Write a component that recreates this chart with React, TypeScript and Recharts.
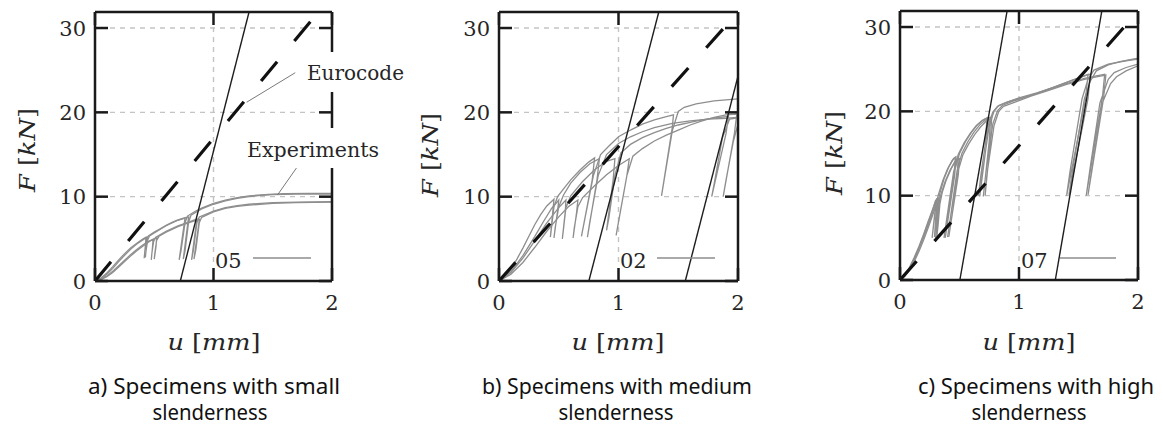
import React from 'react';
import { LineChart, Line, XAxis, YAxis, CartesianGrid, ReferenceLine } from 'recharts';

type Pt = [number, number];

// ---------- axes ----------
const uTicks = [0, 1, 2];
const fTicks = [0, 10, 20, 30];
const uDomain: [number, number] = [0, 2];
const fDomain: [number, number] = [0, 31.9];

// ---------- a) small slenderness (specimen 05) ----------
const smallExp1: Pt[] = [
  [0, 0], [0.05, 0.35], [0.1, 0.95], [0.15, 1.7], [0.2, 2.5], [0.25, 3.25], [0.3, 3.9], [0.35, 4.45], [0.4, 4.95], [0.43, 5.2],
  [0.425, 4.2], [0.415, 2.7], [0.42, 3.4], [0.435, 4.8], [0.45, 5.35],
  [0.5, 5.8], [0.55, 6.2], [0.6, 6.6], [0.65, 6.95], [0.7, 7.25], [0.76, 7.5],
  [0.75, 6.5], [0.71, 2.5], [0.725, 3.5], [0.76, 6.9], [0.78, 7.7],
  [0.85, 8.3], [0.9, 8.65], [1.0, 9.2], [1.1, 9.6], [1.2, 9.9], [1.3, 10.1], [1.4, 10.2], [1.5, 10.3], [1.6, 10.35], [1.8, 10.38], [2.0, 10.38],
];
const smallExp2: Pt[] = [
  [0, 0], [0.05, 0.25], [0.1, 0.8], [0.15, 1.5], [0.2, 2.3], [0.25, 3.05], [0.3, 3.75], [0.35, 4.35], [0.4, 4.85], [0.44, 5.2],
  [0.435, 4.2], [0.425, 2.8], [0.43, 3.5], [0.445, 4.9], [0.46, 5.35],
  [0.5, 5.7], [0.6, 6.55], [0.7, 7.2], [0.79, 7.6],
  [0.78, 6.5], [0.745, 2.6], [0.76, 3.6], [0.79, 7.0], [0.81, 7.8],
  [0.9, 8.55], [1.0, 9.1], [1.1, 9.5], [1.2, 9.8], [1.3, 10.0], [1.4, 10.15], [1.5, 10.25], [1.7, 10.3], [2.0, 10.3],
];
const smallExp3: Pt[] = [
  [0, 0], [0.05, 0.15], [0.1, 0.5], [0.15, 1.0], [0.2, 1.65], [0.25, 2.3], [0.3, 2.95], [0.35, 3.55], [0.4, 4.1], [0.45, 4.6], [0.49, 4.95],
  [0.485, 4.0], [0.475, 2.5], [0.48, 3.3], [0.495, 4.7], [0.51, 5.15],
  [0.6, 5.9], [0.7, 6.55], [0.8, 7.05], [0.86, 7.35],
  [0.85, 6.3], [0.815, 2.5], [0.83, 3.6], [0.86, 6.9], [0.88, 7.6],
  [0.95, 8.0], [1.0, 8.3], [1.1, 8.7], [1.2, 8.95], [1.3, 9.1], [1.4, 9.2], [1.5, 9.3], [1.7, 9.35], [2.0, 9.4],
];
const smallExp4: Pt[] = [
  [0, 0], [0.05, 0.2], [0.1, 0.6], [0.15, 1.15], [0.2, 1.8], [0.25, 2.45], [0.3, 3.1], [0.35, 3.7], [0.4, 4.25], [0.45, 4.7], [0.52, 5.1],
  [0.515, 4.1], [0.5, 2.6], [0.505, 3.3], [0.52, 4.8], [0.54, 5.3],
  [0.6, 5.8], [0.7, 6.45], [0.8, 6.95], [0.88, 7.3],
  [0.87, 6.2], [0.835, 2.6], [0.85, 3.6], [0.88, 6.9], [0.9, 7.55],
  [1.0, 8.2], [1.1, 8.6], [1.2, 8.85], [1.3, 9.0], [1.5, 9.2], [1.7, 9.3], [2.0, 9.35],
];
const smallEurocode: Pt[] = [[0, 0], [1.85, 31.3]];
const smallStiffness1: Pt[] = [[0.72, 0], [1.3, 31.9]];

// ---------- b) medium slenderness (specimen 02) ----------
const mediumExp1: Pt[] = [
  [0, 0], [0.05, 0.5], [0.1, 1.4], [0.15, 2.6], [0.2, 3.9], [0.25, 5.3], [0.3, 6.7], [0.35, 7.9], [0.4, 8.9], [0.46, 9.7],
  [0.45, 8.2], [0.43, 5.2], [0.44, 6.4], [0.46, 8.8], [0.49, 10.0],
  [0.55, 11.1], [0.6, 12.0], [0.68, 13.2], [0.75, 14.1], [0.8, 14.6],
  [0.78, 12.0], [0.69, 5.3], [0.72, 7.5], [0.79, 12.5], [0.85, 15.0],
  [0.92, 16.0], [1.0, 17.1], [1.1, 17.9], [1.2, 18.6], [1.3, 19.1], [1.4, 19.5], [1.46, 19.7],
  [1.45, 18.2], [1.36, 10.1], [1.38, 11.8], [1.45, 17.8], [1.5, 20.1], [1.55, 20.6],
  [1.65, 21.0], [1.8, 21.35], [2.0, 21.6],
];
const mediumExp2: Pt[] = [
  [0, 0], [0.1, 0.8], [0.2, 2.2], [0.3, 4.0], [0.4, 5.9], [0.5, 7.6], [0.58, 8.8], [0.66, 9.6],
  [0.65, 8.2], [0.62, 5.1], [0.63, 6.3], [0.66, 8.8], [0.7, 9.9],
  [0.8, 11.3], [0.9, 12.6], [1.0, 13.7], [1.09, 14.5],
  [1.07, 12.5], [0.98, 5.4], [1.0, 7.0], [1.07, 12.5], [1.12, 14.8],
  [1.2, 15.7], [1.3, 16.6], [1.4, 17.3], [1.5, 17.9], [1.6, 18.5], [1.7, 19.0], [1.8, 19.4], [1.9, 19.7], [1.99, 19.8],
  [1.97, 17.5], [1.876, 10.0], [1.9, 12.0], [1.96, 16.5], [2.0, 18.6],
];
const mediumExp3: Pt[] = [
  [0, 0], [0.1, 1.0], [0.2, 2.7], [0.3, 4.8], [0.4, 6.9], [0.5, 8.7], [0.56, 9.6],
  [0.555, 8.3], [0.53, 5.0], [0.54, 6.2], [0.56, 8.7], [0.6, 10.1],
  [0.7, 11.8], [0.8, 13.2], [0.9, 14.2], [0.97, 14.5],
  [0.955, 12.0], [0.9, 6.0], [0.92, 7.5], [0.97, 12.5], [1.02, 15.2],
  [1.1, 16.2], [1.2, 17.0], [1.3, 17.6], [1.4, 18.1], [1.5, 18.5], [1.6, 18.8], [1.7, 19.1], [1.8, 19.35], [1.92, 19.5],
  [1.9, 17.5], [1.78, 10.0], [1.8, 11.5], [1.87, 17.0], [1.93, 19.2], [2.0, 19.35],
];
const mediumExp4: Pt[] = [
  [0, 0], [0.1, 1.1], [0.2, 3.0], [0.3, 5.3], [0.37, 7.0], [0.44, 8.6], [0.5, 9.6],
  [0.49, 8.3], [0.46, 5.1], [0.47, 6.3], [0.5, 8.8], [0.54, 10.2],
  [0.6, 11.6], [0.68, 12.9], [0.76, 13.9], [0.84, 14.5],
  [0.82, 12.0], [0.74, 5.2], [0.76, 7.0], [0.83, 12.5], [0.9, 15.0],
  [1.0, 16.3], [1.1, 17.1], [1.2, 17.7], [1.3, 18.2], [1.45, 18.7], [1.6, 19.0], [1.75, 19.2], [1.9, 19.3], [2.0, 19.4],
];
const mediumEurocode: Pt[] = [[0, 0], [1.9, 30.3]];
const mediumStiffness1: Pt[] = [[0.752, 0], [1.337, 31.9]];
const mediumStiffness2: Pt[] = [[1.559, 0], [2.0, 24.3]];

// ---------- c) high slenderness (specimen 07) ----------
const highExp1: Pt[] = [
  [0, 0], [0.04, 0.6], [0.08, 1.5], [0.12, 2.7], [0.16, 4.0], [0.2, 5.5], [0.24, 7.1], [0.28, 8.6], [0.31, 9.7],
  [0.305, 8.5], [0.29, 5.1], [0.3, 6.3], [0.315, 8.8], [0.335, 10.3],
  [0.37, 12.0], [0.41, 13.4], [0.45, 14.4], [0.47, 14.6],
  [0.46, 12.5], [0.38, 5.0], [0.4, 7.0], [0.46, 13.0], [0.5, 15.0],
  [0.55, 16.4], [0.6, 17.5], [0.65, 18.4], [0.7, 19.0], [0.74, 19.3],
  [0.73, 16.5], [0.67, 9.9], [0.69, 12.5], [0.75, 18.3], [0.79, 20.0], [0.83, 20.7],
  [0.9, 21.1], [1.0, 21.5], [1.15, 22.1], [1.3, 22.9], [1.45, 23.7], [1.55, 24.2], [1.6, 24.4],
  [1.58, 21.5], [1.42, 10.1], [1.45, 13.0], [1.55, 21.5], [1.6, 23.6], [1.65, 24.8], [1.75, 25.5], [1.85, 25.9], [2.0, 26.3],
];
const highExp2: Pt[] = [
  [0, 0], [0.04, 0.5], [0.08, 1.3], [0.12, 2.4], [0.16, 3.7], [0.2, 5.1], [0.24, 6.6], [0.28, 8.2], [0.33, 9.8],
  [0.325, 8.5], [0.31, 5.2], [0.32, 6.5], [0.335, 9.0], [0.355, 10.4],
  [0.39, 11.9], [0.43, 13.2], [0.47, 14.2], [0.49, 14.5],
  [0.48, 12.5], [0.4, 5.1], [0.42, 7.0], [0.48, 13.0], [0.52, 15.0],
  [0.57, 16.4], [0.62, 17.5], [0.67, 18.4], [0.72, 19.0], [0.76, 19.3],
  [0.75, 16.5], [0.7, 9.9], [0.72, 12.5], [0.78, 18.5], [0.82, 20.1], [0.86, 20.7],
  [0.95, 21.2], [1.1, 21.9], [1.25, 22.6], [1.4, 23.3], [1.55, 23.9], [1.65, 24.2], [1.72, 24.4],
  [1.7, 21.5], [1.565, 10.0], [1.6, 13.5], [1.68, 21.0], [1.75, 23.8], [1.8, 24.6], [1.9, 25.2], [2.0, 25.6],
];
const highExp3: Pt[] = [
  [0, 0], [0.04, 0.55], [0.08, 1.4], [0.12, 2.55], [0.16, 3.85], [0.2, 5.3], [0.24, 6.85], [0.27, 8.1], [0.3, 9.5],
  [0.295, 8.3], [0.27, 5.0], [0.28, 6.2], [0.3, 8.6], [0.32, 10.0],
  [0.36, 11.8], [0.4, 13.2], [0.44, 14.2], [0.465, 14.5],
  [0.455, 12.5], [0.37, 5.0], [0.39, 7.0], [0.45, 12.8], [0.49, 14.9],
  [0.54, 16.3], [0.59, 17.4], [0.64, 18.3], [0.69, 18.9], [0.73, 19.2],
  [0.72, 16.5], [0.66, 10.0], [0.68, 12.5], [0.74, 18.3], [0.78, 19.9], [0.82, 20.6],
  [0.9, 21.1], [1.0, 21.6], [1.15, 22.2], [1.3, 22.9], [1.45, 23.7], [1.55, 24.2], [1.58, 24.4],
  [1.56, 21.5], [1.4, 10.0], [1.43, 13.0], [1.53, 21.5], [1.58, 23.8], [1.63, 24.9], [1.75, 25.6], [1.9, 26.0], [2.0, 26.2],
];
const highExp4: Pt[] = [
  [0, 0], [0.04, 0.45], [0.08, 1.2], [0.12, 2.2], [0.16, 3.4], [0.2, 4.8], [0.24, 6.3], [0.28, 7.9], [0.32, 9.6],
  [0.315, 8.4], [0.3, 5.0], [0.31, 6.2], [0.325, 8.8], [0.345, 10.2],
  [0.38, 11.7], [0.42, 13.0], [0.46, 14.0], [0.5, 14.4],
  [0.49, 12.5], [0.41, 5.1], [0.43, 7.0], [0.49, 13.0], [0.53, 14.9],
  [0.58, 16.2], [0.63, 17.3], [0.68, 18.2], [0.73, 18.9], [0.77, 19.2],
  [0.76, 16.5], [0.715, 10.0], [0.73, 12.5], [0.79, 18.3], [0.83, 20.0], [0.87, 20.6],
  [0.95, 21.0], [1.1, 21.8], [1.25, 22.5], [1.4, 23.2], [1.55, 23.8], [1.65, 24.1], [1.73, 24.3],
  [1.71, 21.5], [1.58, 10.1], [1.61, 13.0], [1.7, 21.0], [1.77, 23.3], [1.82, 24.1], [1.9, 24.8], [2.0, 25.4],
];
const highEurocode: Pt[] = [[0, 0], [1.89, 30.1]];
const highStiffness1: Pt[] = [[0.503, 0], [0.9, 31.9]];
const highStiffness2: Pt[] = [[1.305, 0], [1.696, 31.9]];

// ---------- annotations (panel a) ----------
const eurocodeLeader: Pt[] = [[1.69, 24.7], [1.28, 21.2]];
const experimentsLeader: Pt[] = [[1.7, 13.4], [1.54, 10.2]];

// ---------- texts ----------
const specimenKeys = ['05', '02', '07'];
const captionLine1 = ['a) Specimens with small', 'b) Specimens with medium', 'c) Specimens with high'];
const captionLine2 = ['slenderness', 'slenderness', 'slenderness'];

const toData = (pts: Pt[]) => pts.map(([x, y]) => ({ x, y }));

const SERIF = "'DejaVu Serif', serif";
const SANS = "'Noto Sans', 'Open Sans', sans-serif";
const AXIS = '#1a1a1a';
const GRAY = '#8e8e8e';
const TEXT = '#262626';
const TICK_LEN = 13;
const TICK_W = 2.5;

type Side = 'bottom' | 'left' | 'top' | 'right';

// Inward tick marks (mirrored on all four sides); labels only on bottom/left.
const makeTick = (side: Side) => (props: any) => {
  const { x, y, payload } = props;
  const common = { stroke: AXIS, strokeWidth: TICK_W, fill: 'none' };
  if (side === 'bottom') {
    return (
      <g>
        <path d={`M${x},${y}L${x},${y - TICK_LEN}`} {...common} />
        <text x={x} y={y + 29} textAnchor="middle" fontFamily={SERIF} fontSize={21} fill={TEXT}>{payload.value}</text>
      </g>
    );
  }
  if (side === 'left') {
    return (
      <g>
        <path d={`M${x},${y}L${x + TICK_LEN},${y}`} {...common} />
        <text x={x - 9} y={y + 7.5} textAnchor="end" fontFamily={SERIF} fontSize={21} fill={TEXT}>{payload.value}</text>
      </g>
    );
  }
  if (side === 'top') {
    return <path d={`M${x},${y}L${x},${y + TICK_LEN}`} {...common} />;
  }
  return <path d={`M${x},${y}L${x - TICK_LEN},${y}`} {...common} />;
};

// dashed grid line that leaves room for the tick marks at both ends
const gridDash = (len: number, skip: number) => {
  const arr: number[] = [0, skip];
  let pos = skip;
  while (pos + 5 <= len - skip) {
    arr.push(5, 5);
    pos += 10;
  }
  arr.push(0, len + 10);
  return arr.join(' ');
};

const makeGridLine = (bounds: { top: number; bottom: number; left: number; right: number }) => (p: any) => {
  const { x1, y1, x2, y2 } = p;
  const horizontal = Math.abs(y1 - y2) < 0.5;
  const onBorder = horizontal
    ? Math.abs(y1 - bounds.top) < 1.5 || Math.abs(y1 - bounds.bottom) < 1.5
    : Math.abs(x1 - bounds.left) < 1.5 || Math.abs(x1 - bounds.right) < 1.5;
  if (onBorder) return <g key={p.key} />;
  const len = Math.hypot(x2 - x1, y2 - y1);
  return (
    <line key={p.key} x1={x1} y1={y1} x2={x2} y2={y2} stroke="#c4c4c4" strokeWidth={1.4}
      strokeDasharray={gridDash(len, TICK_LEN + 2)} fill="none" />
  );
};

interface PanelProps {
  left: number;
  width: number;
  height: number;
  margin: { top: number; right: number; bottom: number; left: number };
  experiments: Pt[][];
  stiffness: Pt[][];
  eurocode: Pt[];
  leaders?: Pt[][];
}

function Panel({ left, width, height, margin, experiments, stiffness, eurocode, leaders = [] }: PanelProps) {
  const axisLine = { stroke: AXIS, strokeWidth: TICK_W };
  const bounds = {
    top: margin.top + 1,
    bottom: height - margin.bottom - 1,
    left: margin.left + 1,
    right: width - margin.right - 1,
  };
  const gridLine = makeGridLine(bounds);
  return (
    <div style={{ position: 'absolute', left, top: 0 }}>
      <LineChart width={width} height={height} margin={margin}>
        <CartesianGrid xAxisId="b" yAxisId="l" horizontal={gridLine} vertical={gridLine} />
        <XAxis xAxisId="b" dataKey="x" type="number" domain={uDomain} ticks={uTicks} interval={0} height={1}
          tickSize={0} tickMargin={0} axisLine={axisLine} tickLine={false} tick={makeTick('bottom')} allowDataOverflow />
        <XAxis xAxisId="t" orientation="top" dataKey="x" type="number" domain={uDomain} ticks={uTicks} interval={0} height={1}
          tickSize={0} tickMargin={0} axisLine={axisLine} tickLine={false} tick={makeTick('top')} allowDataOverflow />
        <YAxis yAxisId="l" type="number" domain={fDomain} ticks={fTicks} interval={0} width={1}
          tickSize={0} tickMargin={0} axisLine={axisLine} tickLine={false} tick={makeTick('left')} allowDataOverflow />
        <YAxis yAxisId="r" orientation="right" type="number" domain={fDomain} ticks={fTicks} interval={0} width={1}
          tickSize={0} tickMargin={0} axisLine={axisLine} tickLine={false} tick={makeTick('right')} allowDataOverflow />
        {experiments.map((pts, i) => (
          <Line key={'e' + i} xAxisId="b" yAxisId="l" data={toData(pts)} dataKey="y" type="linear"
            stroke={GRAY} strokeWidth={1.3} dot={false} activeDot={false} isAnimationActive={false} />
        ))}
        {stiffness.map((pts, i) => (
          <Line key={'s' + i} xAxisId="b" yAxisId="l" data={toData(pts)} dataKey="y" type="linear"
            stroke="#1e1e1e" strokeWidth={1.4} dot={false} activeDot={false} isAnimationActive={false} />
        ))}
        <Line xAxisId="b" yAxisId="l" data={toData(eurocode)} dataKey="y" type="linear"
          stroke="#111" strokeWidth={3.2} strokeDasharray="25 27" dot={false} activeDot={false} isAnimationActive={false} />
        {leaders.map((pts, i) => (
          <ReferenceLine key={'l' + i} xAxisId="b" yAxisId="l" ifOverflow="visible"
            segment={pts.map(([x, y]) => ({ x, y }))} stroke="#7a7a7a" strokeWidth={1} />
        ))}
      </LineChart>
    </div>
  );
}

const panelCenters = [214, 618, 1029];
const captionCenters = [214, 617, 1036];
const captionWidths = [252, 270, 236];
const captionLine2Centers = [210, 616, 1029];
const yLabelPos = [[27, 150], [430, 155], [834, 153]];
const keyPos = [[215, 253, 311], [620, 657, 715], [1021, 1060, 1116]];

function Overlay() {
  return (
    <svg width={1162} height={435} style={{ position: 'absolute', left: 0, top: 0, pointerEvents: 'none' }}>
      {/* annotation boxes in panel a */}
      <rect x={301} y={52} width={100} height={40} fill="#fff" />
      <text x={307} y={80} fontFamily={SERIF} fontSize={20} fill={TEXT}>Eurocode</text>
      <rect x={242} y={128} width={142} height={40} fill="#fff" />
      <text x={247} y={157} fontFamily={SERIF} fontSize={20} fill={TEXT} textLength={132} lengthAdjust="spacingAndGlyphs">Experiments</text>
      {specimenKeys.map((k, i) => (
        <g key={k}>
          <text x={keyPos[i][0]} y={268} fontFamily={SERIF} fontSize={21} fill={TEXT}>{k}</text>
          <line x1={keyPos[i][1]} x2={keyPos[i][2]} y1={258} y2={258} stroke={GRAY} strokeWidth={1.4} />
        </g>
      ))}
      {yLabelPos.map(([cx, cy], i) => (
        <text key={'y' + i} x={cx} y={cy} transform={`rotate(-90, ${cx}, ${cy})`} textAnchor="middle" dominantBaseline="central"
          fontFamily={SERIF} fontSize={22} fill={TEXT} textLength={84} lengthAdjust="spacingAndGlyphs">
          <tspan fontStyle="italic">F</tspan>
          <tspan> [</tspan>
          <tspan fontStyle="italic">kN</tspan>
          <tspan>]</tspan>
        </text>
      ))}
      {panelCenters.map((cx, i) => (
        <text key={'x' + i} x={cx} y={350} textAnchor="middle" fontFamily={SERIF} fontSize={22} fill={TEXT}
          textLength={93} lengthAdjust="spacingAndGlyphs">
          <tspan fontStyle="italic">u</tspan>
          <tspan> [</tspan>
          <tspan fontStyle="italic">mm</tspan>
          <tspan>]</tspan>
        </text>
      ))}
      {captionLine1.map((t, i) => (
        <text key={'c1' + i} x={captionCenters[i]} y={394} textAnchor="middle" fontFamily={SANS} fontSize={21} fill="#111"
          textLength={captionWidths[i]} lengthAdjust="spacingAndGlyphs">{t}</text>
      ))}
      {captionLine2.map((t, i) => (
        <text key={'c2' + i} x={captionLine2Centers[i]} y={420} textAnchor="middle" fontFamily={SANS} fontSize={21} fill="#111"
          textLength={115} lengthAdjust="spacingAndGlyphs">{t}</text>
      ))}
    </svg>
  );
}

export default function App() {
  return (
    <div style={{ position: 'absolute', left: 0, top: 0, width: 1162, height: 435, background: '#fff', overflow: 'hidden' }}>
      <Panel left={0} width={390} height={330} margin={{ top: 11, right: 57, bottom: 48, left: 94 }}
        experiments={[smallExp1, smallExp2, smallExp3, smallExp4]} stiffness={[smallStiffness1]} eurocode={smallEurocode}
        leaders={[eurocodeLeader, experimentsLeader]} />
      <Panel left={400} width={390} height={330} margin={{ top: 11, right: 51, bottom: 48, left: 98 }}
        experiments={[mediumExp1, mediumExp2, mediumExp3, mediumExp4]} stiffness={[mediumStiffness1, mediumStiffness2]} eurocode={mediumEurocode} />
      <Panel left={800} width={362} height={330} margin={{ top: 10, right: 23, bottom: 49, left: 99 }}
        experiments={[highExp1, highExp2, highExp3, highExp4]} stiffness={[highStiffness1, highStiffness2]} eurocode={highEurocode} />
      <Overlay />
    </div>
  );
}
